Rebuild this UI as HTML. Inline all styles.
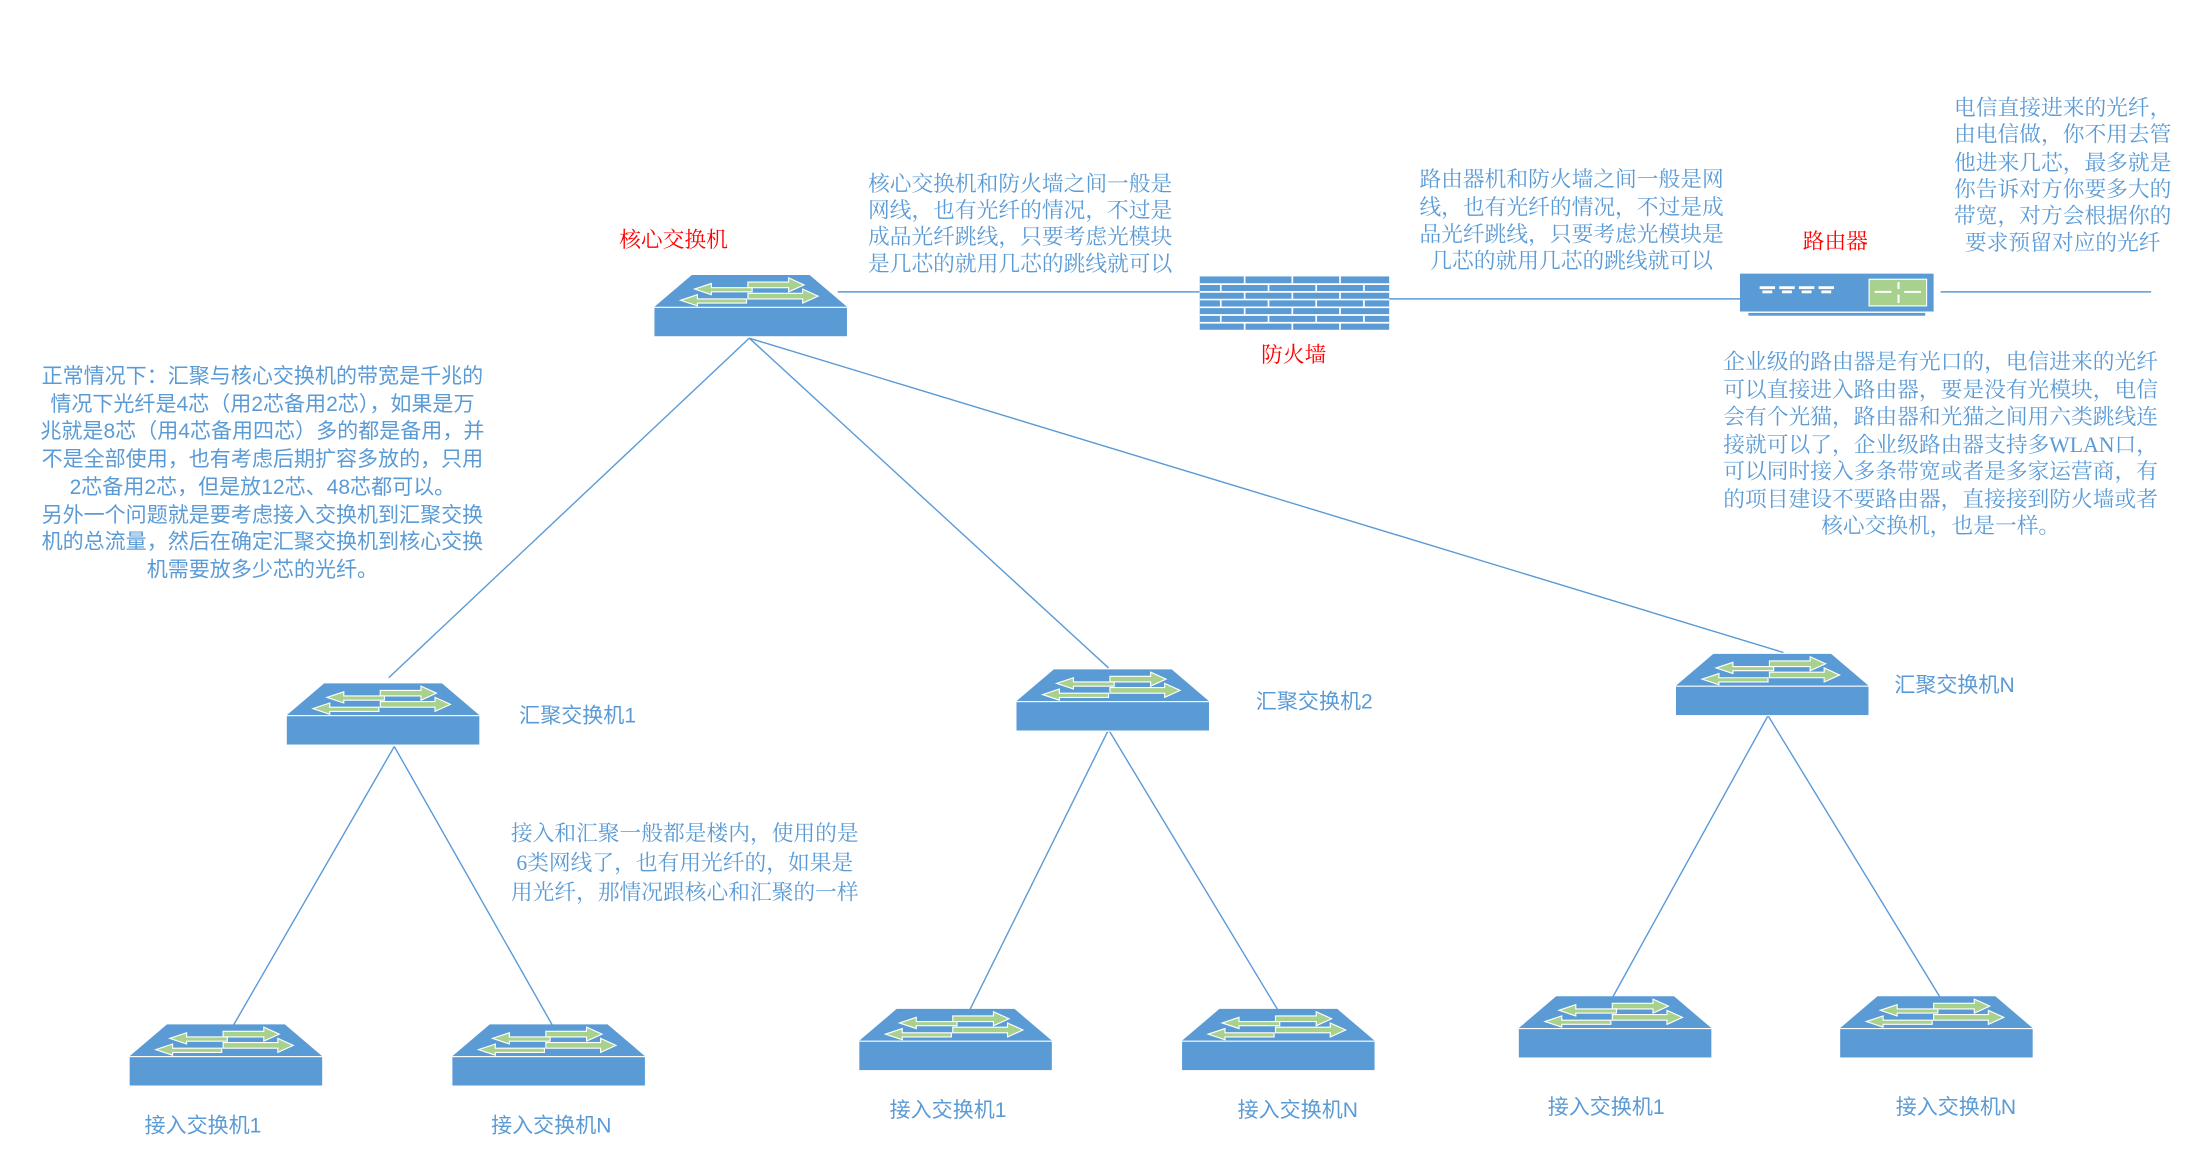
<!DOCTYPE html>
<html><head><meta charset="utf-8"><style>
html,body{margin:0;padding:0;background:#fff;}
svg{display:block;}
.t{font-family:"Liberation Serif","Noto Serif CJK SC",serif;font-size:15.5px;fill:#5b9bd5;text-anchor:middle;}
.s{font-family:"Liberation Sans","Noto Sans CJK SC",sans-serif;font-size:15px;fill:#5b9bd5;text-anchor:middle;}
.l{font-family:"Liberation Sans","Noto Sans CJK SC",sans-serif;font-size:15px;fill:#5b9bd5;}
.r{font-family:"Liberation Serif","Noto Serif CJK SC",serif;font-size:15.5px;fill:#ff0000;text-anchor:middle;}
</style></head><body>
<svg width="2189" height="1154" viewBox="0 0 1560 822.4" xmlns="http://www.w3.org/2000/svg">
<defs>
<g id="sw">
<polygon points="27,0 111,0 138,23 0,23" fill="#5b9bd5"/>
<rect x="0" y="23" width="138" height="21" fill="#5b9bd5" stroke="#fff" stroke-width="0.8"/>
<g fill="#a9d18e" stroke="#fff" stroke-width="0.8">
<polygon points="67,5 96,5 96,2 107,7 96,12 96,9 67,9"/>
<polygon points="67,13 106,13 106,10 117,15 106,20 106,17 67,17"/>
<polygon points="70,9 41,9 41,6 29,10 41,14 41,12 70,12"/>
<polygon points="66,17 31,17 31,14 19,18 31,22 31,20 66,20"/>
</g>
</g>
</defs>
<g stroke="#5b9bd5" stroke-width="1" fill="none">
<line x1="597" y1="208" x2="855" y2="208"/>
<line x1="990" y1="213" x2="1240" y2="213"/>
<line x1="1383" y1="208" x2="1533" y2="208"/>
<line x1="534" y1="241" x2="277" y2="483"/>
<line x1="534" y1="241" x2="790" y2="476"/>
<line x1="534" y1="241" x2="1271" y2="465"/>
<line x1="281" y1="532" x2="165" y2="733"/>
<line x1="281" y1="532" x2="395" y2="733"/>
<line x1="790" y1="520" x2="690" y2="722"/>
<line x1="790" y1="520" x2="912" y2="722"/>
<line x1="1260" y1="510" x2="1148" y2="713"/>
<line x1="1260" y1="510" x2="1384" y2="713"/>
</g>
<use href="#sw" x="466" y="196"/>
<use href="#sw" x="204" y="487"/>
<use href="#sw" x="724" y="477"/>
<use href="#sw" x="1194" y="466"/>
<use href="#sw" x="92" y="730"/>
<use href="#sw" x="322" y="730"/>
<use href="#sw" x="612" y="719"/>
<use href="#sw" x="842" y="719"/>
<use href="#sw" x="1082" y="710"/>
<use href="#sw" x="1311" y="710"/>
<!-- firewall -->
<rect x="855" y="197" width="135" height="38" fill="#5b9bd5"/>
<g stroke="#fff" stroke-width="1.2">
<line x1="855" y1="202.5" x2="990" y2="202.5"/><line x1="855" y1="208" x2="990" y2="208"/>
<line x1="855" y1="213.5" x2="990" y2="213.5"/><line x1="855" y1="219" x2="990" y2="219"/>
<line x1="855" y1="224.5" x2="990" y2="224.5"/><line x1="855" y1="230" x2="990" y2="230"/>
<line x1="887" y1="197" x2="887" y2="202.5"/><line x1="921" y1="197" x2="921" y2="202.5"/><line x1="955" y1="197" x2="955" y2="202.5"/>
<line x1="870" y1="202.5" x2="870" y2="208"/><line x1="904" y1="202.5" x2="904" y2="208"/><line x1="938" y1="202.5" x2="938" y2="208"/><line x1="972" y1="202.5" x2="972" y2="208"/>
<line x1="887" y1="208" x2="887" y2="213.5"/><line x1="921" y1="208" x2="921" y2="213.5"/><line x1="955" y1="208" x2="955" y2="213.5"/>
<line x1="870" y1="213.5" x2="870" y2="219"/><line x1="904" y1="213.5" x2="904" y2="219"/><line x1="938" y1="213.5" x2="938" y2="219"/><line x1="972" y1="213.5" x2="972" y2="219"/>
<line x1="887" y1="219" x2="887" y2="224.5"/><line x1="921" y1="219" x2="921" y2="224.5"/><line x1="955" y1="219" x2="955" y2="224.5"/>
<line x1="870" y1="224.5" x2="870" y2="230"/><line x1="904" y1="224.5" x2="904" y2="230"/><line x1="938" y1="224.5" x2="938" y2="230"/><line x1="972" y1="224.5" x2="972" y2="230"/>
<line x1="887" y1="230" x2="887" y2="235"/><line x1="921" y1="230" x2="921" y2="235"/><line x1="955" y1="230" x2="955" y2="235"/>
</g>
<!-- router -->
<rect x="1240" y="195" width="138" height="27" fill="#5b9bd5"/>
<rect x="1246" y="223" width="126" height="2" fill="#5b9bd5"/>
<rect x="1332" y="199" width="41" height="19" fill="#a9d18e" stroke="#fff" stroke-width="0.8"/>
<g stroke="#fff" stroke-width="1.5" fill="none">
<line x1="1336" y1="208" x2="1348" y2="208"/><line x1="1369" y1="208" x2="1357" y2="208"/>
<line x1="1353" y1="201" x2="1353" y2="206"/><line x1="1353" y1="210" x2="1353" y2="216"/>
</g>
<g fill="#fff">
<rect x="1254" y="204" width="11" height="2"/><rect x="1256" y="207" width="7" height="2"/>
<rect x="1268" y="204" width="11" height="2"/><rect x="1270" y="207" width="7" height="2"/>
<rect x="1282" y="204" width="11" height="2"/><rect x="1284" y="207" width="7" height="2"/>
<rect x="1296" y="204" width="11" height="2"/><rect x="1298" y="207" width="7" height="2"/>
</g>
<!-- red labels -->
<text class="r" x="480" y="176">核心交换机</text>
<text class="r" x="922" y="258">防火墙</text>
<text class="r" x="1308" y="177">路由器</text>
<!-- node labels -->
<text class="l" x="370" y="515">汇聚交换机1</text>
<text class="l" x="895" y="505">汇聚交换机2</text>
<text class="l" x="1350" y="493">汇聚交换机N</text>
<text class="l" x="103" y="807">接入交换机1</text>
<text class="l" x="350" y="807">接入交换机N</text>
<text class="l" x="634" y="796">接入交换机1</text>
<text class="l" x="882" y="796">接入交换机N</text>
<text class="l" x="1103" y="794">接入交换机1</text>
<text class="l" x="1351" y="794">接入交换机N</text>
<!-- block1 -->
<text class="t" x="727" y="136">核心交换机和防火墙之间一般是</text>
<text class="t" x="727" y="155">网线，也有光纤的情况，不过是</text>
<text class="t" x="727" y="174">成品光纤跳线，只要考虑光模块</text>
<text class="t" x="727" y="193">是几芯的就用几芯的跳线就可以</text>
<!-- block2 -->
<text class="t" x="1120" y="133">路由器机和防火墙之间一般是网</text>
<text class="t" x="1120" y="153">线，也有光纤的情况，不过是成</text>
<text class="t" x="1120" y="172">品光纤跳线，只要考虑光模块是</text>
<text class="t" x="1120" y="191">几芯的就用几芯的跳线就可以</text>
<!-- block3 -->
<text class="t" x="1470" y="82">电信直接进来的光纤，</text>
<text class="t" x="1470" y="101">由电信做，你不用去管</text>
<text class="t" x="1470" y="121">他进来几芯，最多就是</text>
<text class="t" x="1470" y="140">你告诉对方你要多大的</text>
<text class="t" x="1470" y="159">带宽，对方会根据你的</text>
<text class="t" x="1470" y="178">要求预留对应的光纤</text>
<!-- block4 -->
<text class="t" x="1383" y="263">企业级的路由器是有光口的，电信进来的光纤</text>
<text class="t" x="1383" y="283">可以直接进入路由器，要是没有光模块，电信</text>
<text class="t" x="1383" y="302">会有个光猫，路由器和光猫之间用六类跳线连</text>
<text class="t" x="1383" y="322">接就可以了，企业级路由器支持多WLAN口，</text>
<text class="t" x="1383" y="341">可以同时接入多条带宽或者是多家运营商，有</text>
<text class="t" x="1383" y="361">的项目建设不要路由器，直接接到防火墙或者</text>
<text class="t" x="1383" y="380">核心交换机，也是一样。</text>
<!-- block5 -->
<text class="s" x="187" y="273">正常情况下：汇聚与核心交换机的带宽是千兆的</text>
<text class="s" x="187" y="293">情况下光纤是4芯（用2芯备用2芯），如果是万</text>
<text class="s" x="187" y="312">兆就是8芯（用4芯备用四芯）多的都是备用，并</text>
<text class="s" x="187" y="332">不是全部使用，也有考虑后期扩容多放的，只用</text>
<text class="s" x="187" y="352">2芯备用2芯，但是放12芯、48芯都可以。</text>
<text class="s" x="187" y="372">另外一个问题就是要考虑接入交换机到汇聚交换</text>
<text class="s" x="187" y="391">机的总流量，然后在确定汇聚交换机到核心交换</text>
<text class="s" x="187" y="411">机需要放多少芯的光纤。</text>
<!-- block6 -->
<text class="t" x="488" y="599">接入和汇聚一般都是楼内，使用的是</text>
<text class="t" x="488" y="620">6类网线了，也有用光纤的，如果是</text>
<text class="t" x="488" y="641">用光纤，那情况跟核心和汇聚的一样</text>
</svg>
</body></html>
